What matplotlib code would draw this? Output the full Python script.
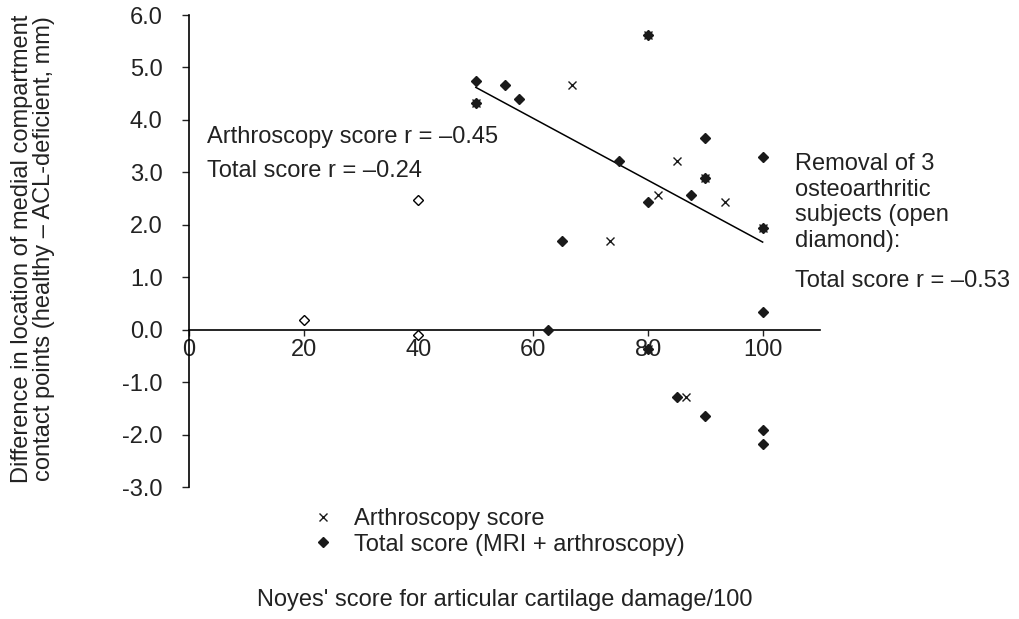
import matplotlib
matplotlib.use("Agg")
import matplotlib.pyplot as plt
from matplotlib.ticker import FormatStrFormatter

plt.rcParams['font.family'] = ['Liberation Sans', 'DejaVu Sans']

# arthroscopy score (x markers)
arth_x = [50, 66.7, 80, 85, 81.7, 93.4, 90, 73.4, 100, 80, 86.7]
arth_y = [4.32, 4.67, 5.62, 3.21, 2.57, 2.43, 2.89, 1.70, 1.93, -0.37, -1.28]

# total score, MRI + arthroscopy (filled diamonds)
tot_x = [50, 50, 55.1, 57.5, 80, 75, 90, 100, 90, 87.5, 80, 65.1, 100, 62.5, 100, 80, 85, 90, 100, 100]
tot_y = [4.75, 4.32, 4.67, 4.39, 5.62, 3.21, 3.65, 3.29, 2.89, 2.57, 2.43, 1.70, 1.93, 0.0, 0.33, -0.37, -1.28, -1.65, -1.92, -2.18]

# osteoarthritic subjects (open diamonds)
oa_x = [40, 20, 40]
oa_y = [2.48, 0.19, -0.10]

# regression line ends
trend_x = [50, 100]
trend_y = [4.62, 1.67]

xticks = [0, 20, 40, 60, 80, 100]
yticks = [-3, -2, -1, 0, 1, 2, 3, 4, 5, 6]

fs = 17
tc = '#222222'

fig = plt.figure(figsize=(10.19, 6.19), dpi=100)
ax = fig.add_axes([189/1019, 1-487/619, (820-189)/1019, (487-15)/619])

ax.plot(trend_x, trend_y, color='black', lw=1.1, zorder=3)
ax.plot(oa_x, oa_y, ls='none', marker='D', ms=4.8, mfc='white', mec='black', mew=1.0,
        clip_on=False, zorder=4)
ax.plot(tot_x, tot_y, ls='none', marker='D', ms=4.8, color='#1a1a1a',
        label='Total score (MRI + arthroscopy)', clip_on=False, zorder=5)
ax.plot(arth_x, arth_y, ls='none', marker='x', ms=5.8, mew=1.0, color='#1a1a1a',
        label='Arthroscopy score', clip_on=False, zorder=6)

ax.set_xlim(0, 110)
ax.set_ylim(-3, 6)
ax.spines['top'].set_visible(False)
ax.spines['right'].set_visible(False)
ax.spines['bottom'].set_position(('data', 0))
ax.spines['left'].set_linewidth(1.2)
ax.spines['bottom'].set_linewidth(1.2)
ax.set_xticks(xticks)
ax.set_yticks(yticks)
ax.yaxis.set_major_formatter(FormatStrFormatter('%.1f'))
ax.tick_params(axis='y', direction='out', length=5, width=1, pad=14, labelsize=fs, colors=tc)
ax.tick_params(axis='x', direction='out', length=4.5, width=1, pad=2, labelsize=fs, colors=tc)
ax.set_facecolor('none')

ax.text(3.1, 3.68, 'Arthroscopy score r = \u20130.45', fontsize=fs, va='center', color=tc)
ax.text(3.1, 3.02, 'Total score r = \u20130.24', fontsize=fs, va='center', color=tc)

fig.text(795/1019, 1-153/619, 'Removal of 3\nosteoarthritic\nsubjects (open\ndiamond):',
         fontsize=fs, va='top', ha='left', linespacing=1.21, color=tc)
fig.text(795/1019, 1-281/619, 'Total score r = \u20130.53', fontsize=fs, va='center', ha='left',
         color=tc)

fig.text(33/1019, 1-249/619,
         'Difference in location of medial compartment\ncontact points (healthy \u2013 ACL-deficient, mm)',
         rotation=90, fontsize=fs, ha='center', va='center', multialignment='center',
         linespacing=0.95, color=tc)

h, l = ax.get_legend_handles_labels()
fig.legend(h[::-1], l[::-1], loc='upper left', bbox_to_anchor=(311/1019, 1-508/619),
           frameon=False, fontsize=fs, handlelength=1.0, handletextpad=0.8,
           labelspacing=0.15, borderaxespad=0, borderpad=0, labelcolor=tc)

fig.text(505/1019, 1-600/619, "Noyes' score for articular cartilage damage/100", fontsize=fs,
         ha='center', va='center', color=tc)

fig.savefig('out.png', dpi=100)
